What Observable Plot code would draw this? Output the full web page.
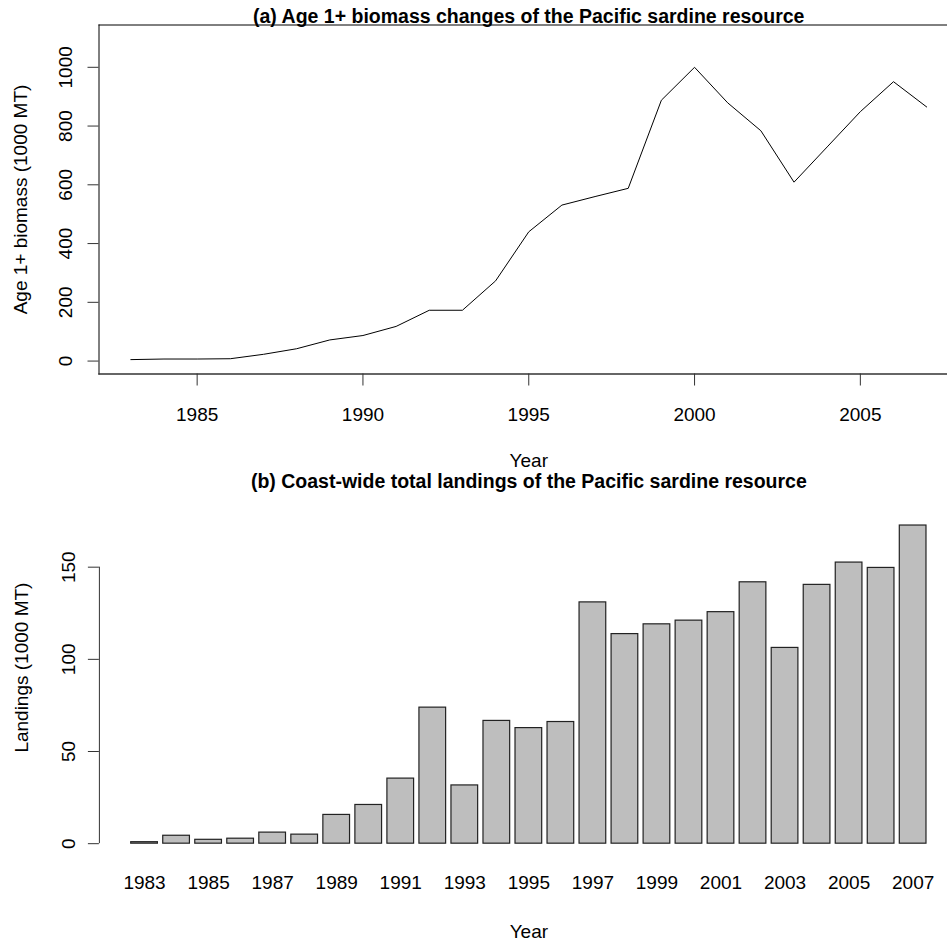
<!DOCTYPE html>
<html>
<head>
<meta charset="utf-8">
<script src="https://cdn.jsdelivr.net/npm/d3@7"></script>
<script src="https://cdn.jsdelivr.net/npm/@observablehq/plot@0.6"></script>
<style>
html, body { margin: 0; padding: 0; background: #fff; overflow: hidden; }
#chart { width: 947px; height: 943px; position: relative; background: #fff; overflow: hidden; }
#chart svg { display: block; }
</style>
</head>
<body>
<div id="chart"></div>
<script>
// ---- data ----
const years = [1983, 1984, 1985, 1986, 1987, 1988, 1989, 1990, 1991, 1992, 1993, 1994, 1995,
               1996, 1997, 1998, 1999, 2000, 2001, 2002, 2003, 2004, 2005, 2006, 2007];
const biomass = [5, 7, 7, 8, 23, 42, 72, 87, 118, 173, 173, 273, 440,
                 531, 560, 588, 888, 1000, 879, 784, 609, 729, 849, 951, 865];
const landings = [0.8, 4.3, 2.1, 2.7, 6.0, 4.9, 15.6, 21.0, 35.3, 73.8, 31.6, 66.6, 62.7,
                  66.0, 130.9, 113.7, 119.0, 121.0, 125.6, 141.8, 106.2, 140.4, 152.5, 149.6, 172.6];
const biomassYTicks = [0, 200, 400, 600, 800, 1000];
const biomassXTicks = [1985, 1990, 1995, 2000, 2005];
const biomassYLim = [0, 1100];
const landingsYTicks = [0, 50, 100, 150];
const landingsXLabels = ["1983", "1985", "1987", "1989", "1991", "1993", "1995",
                         "1997", "1999", "2001", "2003", "2005", "2007"];
const titleA = "(a) Age 1+ biomass changes of the Pacific sardine resource";
const titleB = "(b) Coast-wide total landings of the Pacific sardine resource";
const xTitle = "Year";
const yTitleA = "Age 1+ biomass (1000 MT)";
const yTitleB = "Landings (1000 MT)";

// ---- helpers (R-style 4% axis extension) ----
const ext = ([a, b]) => { const p = (b - a) * 0.04; return [a - p, b + p]; };
const font = "'Liberation Sans', Arial, Helvetica, sans-serif";
const W = 947;
const txt = { fontSize: 19, fill: "#000", textAnchor: "middle", lineAnchor: "middle" };
const ttl = { fontSize: 19.5, fontWeight: "bold", fill: "#000", textAnchor: "middle", lineAnchor: "middle" };

// ---- panel (a) ----
const xA = ext(d3.extent(years));
const yA = ext(biomassYLim);
const midA = (xA[0] + xA[1]) / 2;
const lineData = years.map((y, i) => ({ year: y, value: biomass[i] }));

const chartA = Plot.plot({
  width: W, height: 470,
  marginTop: 24.5, marginBottom: 96.5, marginLeft: 98.5, marginRight: 0,
  style: { fontFamily: font, fontSize: "19px", background: "white", color: "#000", overflow: "visible" },
  x: { domain: xA, range: [98.5, 958] },
  y: { domain: yA },
  marks: [
    Plot.frame({ anchor: "top", stroke: "#000" }),
    Plot.frame({ anchor: "left", stroke: "#000" }),
    Plot.frame({ anchor: "bottom", stroke: "#333", strokeWidth: 1.4 }),
    Plot.axisY(biomassYTicks, { tickSize: 11, tickFormat: () => "", label: null, stroke: "#333" }),
    Plot.axisX(biomassXTicks, { tickSize: 12, tickFormat: () => "", label: null, stroke: "#333" }),
    Plot.text(biomassYTicks, { y: d => d, text: d => String(d), frameAnchor: "left", rotate: -90, dx: -32.6, ...txt }),
    Plot.text(biomassXTicks, { x: d => d, text: d => String(d), frameAnchor: "bottom", dy: 41.4, ...txt }),
    Plot.line(lineData, { x: "year", y: "value", stroke: "#000", strokeWidth: 1 }),
    Plot.text([titleA], { x: () => midA, text: d => d, frameAnchor: "top", dy: -8.6, ...ttl }),
    Plot.text([xTitle], { x: () => midA, text: d => d, frameAnchor: "bottom", dy: 86.5, ...txt }),
    Plot.text([yTitleA], { text: d => d, frameAnchor: "left", rotate: -90, dx: -77.9, ...txt })
  ]
});

// ---- panel (b) ----
const mids = years.map((_, i) => 0.7 + 1.2 * i); // barplot midpoints (width 1, space 0.2)
const barData = years.map((y, i) => ({ year: String(y), mid: mids[i], value: landings[i] }));
const xB = ext([0.2, 1.2 * years.length]);
const yB = ext([0, d3.max(landings)]);
const midB = (xB[0] + xB[1]) / 2;
const labelData = landingsXLabels.map(l => ({ label: l, mid: mids[years.indexOf(+l)] }));

const chartB = Plot.plot({
  width: W, height: 473,
  marginTop: 42.3, marginBottom: 87.1, marginLeft: 98.9, marginRight: 0,
  style: { fontFamily: font, fontSize: "19px", background: "transparent", color: "#000" },
  x: { domain: xB, range: [98.9, 957.8], axis: null },
  y: { domain: yB },
  marks: [
    Plot.rectY(barData, { x1: d => d.mid - 0.5, x2: d => d.mid + 0.5, y1: 0, y2: "value", fill: "#bebebe", stroke: "#222", strokeWidth: 1.2 }),
    Plot.ruleX([xB[0]], { y1: landingsYTicks[0], y2: landingsYTicks[landingsYTicks.length - 1], stroke: "#333" }),
    Plot.axisY(landingsYTicks, { tickSize: 11, tickFormat: () => "", label: null, stroke: "#333" }),
    Plot.text(landingsYTicks, { y: d => d, text: d => String(d), frameAnchor: "left", rotate: -90, dx: -30.5, ...txt }),
    Plot.text(labelData, { x: "mid", text: "label", frameAnchor: "bottom", dy: 27, ...txt }),
    Plot.text([titleB], { x: () => midB, text: d => d, frameAnchor: "top", dy: -31.5, ...ttl }),
    Plot.text([xTitle], { x: () => midB, text: d => d, frameAnchor: "bottom", dy: 75.7, ...txt }),
    Plot.text([yTitleB], { text: d => d, frameAnchor: "left", rotate: -90, dx: -77.9, dy: -17, ...txt })
  ]
});

const root = document.getElementById("chart");
root.appendChild(chartA);
root.appendChild(chartB);
</script>
</body>
</html>
